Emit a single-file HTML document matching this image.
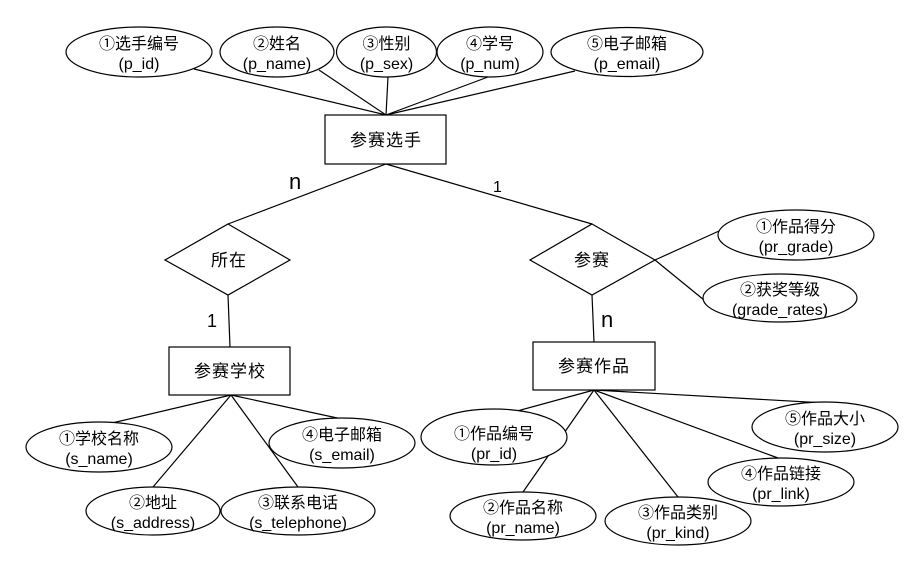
<!DOCTYPE html>
<html><head><meta charset="utf-8"><style>
html,body{margin:0;padding:0;background:#fff;}
svg{display:block;}
text{font-family:"Liberation Sans","Noto Sans CJK SC",sans-serif;fill:#000;}
.t{font-size:16px;text-anchor:middle;}
.r{font-size:17px;text-anchor:middle;letter-spacing:1px;}
</style></head><body>
<svg width="914" height="568" viewBox="0 0 914 568" xmlns="http://www.w3.org/2000/svg">
<g stroke="#000" stroke-width="1.2" fill="none">
<!-- top lines -->
<line x1="194" y1="69" x2="386" y2="115"/>
<line x1="319" y1="70" x2="386" y2="115"/>
<line x1="388" y1="77" x2="386" y2="115"/>
<line x1="488" y1="77" x2="386" y2="115"/>
<line x1="575" y1="71" x2="386" y2="115"/>
<!-- to diamonds -->
<line x1="386" y1="164" x2="228" y2="224"/>
<line x1="386" y1="164" x2="592" y2="224"/>
<line x1="228" y1="295" x2="230" y2="347"/>
<line x1="592" y1="295" x2="594" y2="342"/>
<line x1="655" y1="260" x2="719" y2="231"/>
<line x1="655" y1="260" x2="704" y2="300"/>
<!-- school lines -->
<line x1="231" y1="395" x2="112" y2="423"/>
<line x1="231" y1="395" x2="153" y2="487"/>
<line x1="231" y1="395" x2="298" y2="487"/>
<line x1="231" y1="395" x2="342" y2="419"/>
<!-- works lines -->
<line x1="594" y1="390" x2="495" y2="417"/>
<line x1="594" y1="390" x2="523" y2="492"/>
<line x1="594" y1="390" x2="678" y2="497"/>
<line x1="594" y1="390" x2="778" y2="458"/>
<line x1="594" y1="390" x2="825" y2="403"/>
</g>
<g stroke="#000" stroke-width="1.2" fill="#fff">
<ellipse cx="139" cy="52" rx="73" ry="25"/>
<ellipse cx="277" cy="52" rx="57" ry="25"/>
<ellipse cx="386.5" cy="52" rx="50" ry="25"/>
<ellipse cx="490" cy="52" rx="53" ry="25"/>
<ellipse cx="627" cy="52" rx="76" ry="24.5"/>
<rect x="325" y="115" width="121" height="49"/>
<polygon points="228,224 290,260 228,295 165,260"/>
<polygon points="592,224 655,260 592,295 530,260"/>
<rect x="169" y="347" width="121" height="48"/>
<rect x="533" y="342" width="122" height="48"/>
<ellipse cx="796" cy="235" rx="78" ry="25"/>
<ellipse cx="780" cy="298" rx="77" ry="24"/>
<ellipse cx="99" cy="447" rx="73" ry="25"/>
<ellipse cx="153" cy="511" rx="67" ry="24"/>
<ellipse cx="298" cy="511" rx="77" ry="24"/>
<ellipse cx="342" cy="443" rx="73" ry="25"/>
<ellipse cx="494" cy="437" rx="73" ry="28"/>
<ellipse cx="523" cy="516" rx="73" ry="24"/>
<ellipse cx="678" cy="521" rx="73" ry="24"/>
<ellipse cx="781" cy="482" rx="73" ry="24"/>
<ellipse cx="825" cy="427" rx="73" ry="25"/>
</g>
<!-- entity / relation labels -->
<text class="r" x="386" y="146">参赛选手</text>
<text class="r" x="229" y="266">所在</text>
<text class="r" x="592" y="266">参赛</text>
<text class="r" x="230" y="377">参赛学校</text>
<text class="r" x="594" y="372">参赛作品</text>
<!-- cardinalities -->
<text x="289" y="189" style="font-size:22px">n</text>
<text x="493" y="192" style="font-size:16px">1</text>
<text x="207" y="327" style="font-size:18px">1</text>
<text x="601" y="327" style="font-size:22px">n</text>
<!-- attributes -->
<text class="t" x="139" y="49">①选手编号</text><text class="t" x="139" y="69">(p_id)</text>
<text class="t" x="277" y="49">②姓名</text><text class="t" x="277" y="69">(p_name)</text>
<text class="t" x="386.5" y="49">③性别</text><text class="t" x="386.5" y="69">(p_sex)</text>
<text class="t" x="490" y="49">④学号</text><text class="t" x="490" y="69">(p_num)</text>
<text class="t" x="627" y="49">⑤电子邮箱</text><text class="t" x="627" y="69">(p_email)</text>
<text class="t" x="796" y="232">①作品得分</text><text class="t" x="796" y="252">(pr_grade)</text>
<text class="t" x="780" y="295">②获奖等级</text><text class="t" x="780" y="315">(grade_rates)</text>
<text class="t" x="99" y="444">①学校名称</text><text class="t" x="99" y="464">(s_name)</text>
<text class="t" x="153" y="508">②地址</text><text class="t" x="153" y="528">(s_address)</text>
<text class="t" x="298" y="508">③联系电话</text><text class="t" x="298" y="528">(s_telephone)</text>
<text class="t" x="342" y="440">④电子邮箱</text><text class="t" x="342" y="460">(s_email)</text>
<text class="t" x="494" y="439">①作品编号</text><text class="t" x="494" y="459">(pr_id)</text>
<text class="t" x="523" y="513">②作品名称</text><text class="t" x="523" y="533">(pr_name)</text>
<text class="t" x="678" y="518">③作品类别</text><text class="t" x="678" y="538">(pr_kind)</text>
<text class="t" x="781" y="479">④作品链接</text><text class="t" x="781" y="499">(pr_link)</text>
<text class="t" x="825" y="424">⑤作品大小</text><text class="t" x="825" y="444">(pr_size)</text>
</svg>
</body></html>
